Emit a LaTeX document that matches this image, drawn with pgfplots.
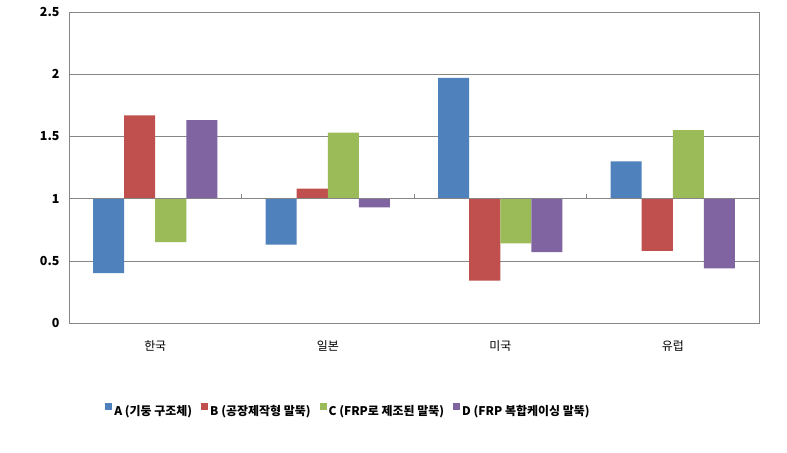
\documentclass[border=0pt]{standalone}
\usepackage{pgfplots}
\pgfplotsset{compat=1.18}
\usepackage{pgfplotstable}
\usepackage{fontspec}
\setmainfont{Noto Sans CJK KR}
\definecolor{cA}{HTML}{4F81BD}
\definecolor{cB}{HTML}{C0504D}
\definecolor{cC}{HTML}{9BBB59}
\definecolor{cD}{HTML}{8064A2}
\definecolor{gridc}{HTML}{868686}
\pgfplotstableread{
x A B C D
0 0.40 1.67 0.65 1.63
1 0.63 1.08 1.53 0.93
2 1.97 0.34 0.64 0.57
3 1.30 0.58 1.55 0.44
}\data
\begin{document}
\begin{tikzpicture}
\useasboundingbox (-69bp,-130bp) rectangle (718bp,323bp);
\begin{axis}[
  at={(0,0)}, anchor=south west,
  scale only axis, width=690bp, height=311bp,
  xmin=-0.5, xmax=3.5, ymin=-1, ymax=1.5,
  axis line style={gridc},
  ytick={-1,-0.5,0,0.5,1,1.5},
  yticklabels={0,0.5,1,1.5,2,2.5},
  xtick={0,1,2,3},
  xticklabels={한국,일본,미국,유럽},
  major tick length=0pt,
  ymajorgrids, grid style={gridc, line width=0.6pt},
  yticklabel style={font=\fontsize{12.5}{14}\selectfont\bfseries, xshift=-6bp},
  xticklabel style={font=\fontsize{12}{14}\selectfont, yshift=-14bp},
  /pgf/number format/assume math mode=true,
  legend columns=4,
  legend style={at={(0.405,-0.283)}, anchor=center, draw=none, fill=none,
    font=\fontsize{12}{14}\selectfont\bfseries,
    /tikz/every even column/.append style={column sep=7bp}},
  legend cell align=left,
]
\addplot[ybar, bar width=0.18, bar shift=-0.27, fill=cA, draw=none,
  legend image code/.code={\fill[cA] (0bp,2bp) rectangle (7bp,9bp);}]
  table[x=x, y expr=\thisrow{A}-1]{\data};
\addplot[ybar, bar width=0.18, bar shift=-0.09, fill=cB, draw=none,
  legend image code/.code={\fill[cB] (0bp,2bp) rectangle (7bp,9bp);}]
  table[x=x, y expr=\thisrow{B}-1]{\data};
\addplot[ybar, bar width=0.18, bar shift=0.09, fill=cC, draw=none,
  legend image code/.code={\fill[cC] (0bp,2bp) rectangle (7bp,9bp);}]
  table[x=x, y expr=\thisrow{C}-1]{\data};
\addplot[ybar, bar width=0.18, bar shift=0.27, fill=cD, draw=none,
  legend image code/.code={\fill[cD] (0bp,2bp) rectangle (7bp,9bp);}]
  table[x=x, y expr=\thisrow{D}-1]{\data};
\legend{A (기둥 구조체), B (공장제작형 말뚝), C (FRP로 제조된 말뚝), D (FRP 복합케이싱 말뚝)}
\draw[gridc, line width=0.6pt] (axis cs:-0.5,0) -- (axis cs:3.5,0);
\draw[gridc] (axis cs:0.5,0) -- ([yshift=5bp]axis cs:0.5,0);
\draw[gridc] (axis cs:1.5,0) -- ([yshift=5bp]axis cs:1.5,0);
\draw[gridc] (axis cs:2.5,0) -- ([yshift=5bp]axis cs:2.5,0);
\end{axis}
\end{tikzpicture}
\end{document}
